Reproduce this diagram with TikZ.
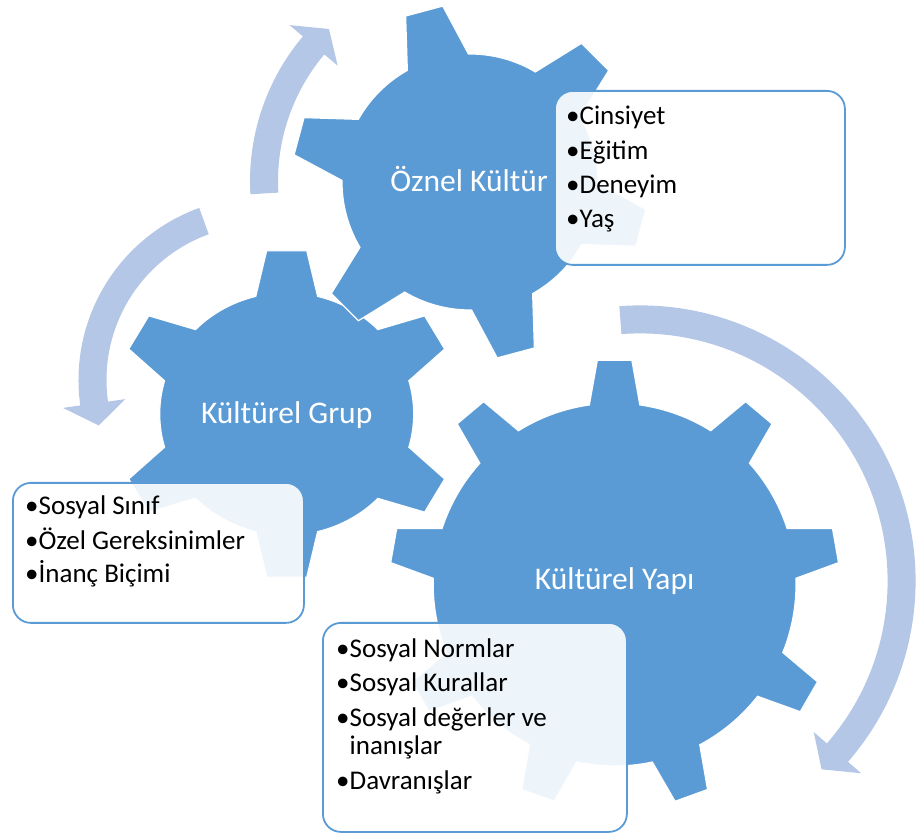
\documentclass[tikz,border=0pt]{standalone}
\usepackage{fontspec}
\setmainfont{Carlito}
\definecolor{gearblue}{HTML}{5B9BD5}
\definecolor{arrowblue}{HTML}{B4C7E7}
\begin{document}
\begin{tikzpicture}[x=1pt,y=1pt,
  gear/.style={fill=gearblue, draw=white, line width=1.2pt, line join=miter},
  cyclearrow/.style={fill=arrowblue},
  listbox/.style={draw=gearblue, line width=1.8pt, fill=white, fill opacity=0.9,
    rounded corners=18pt, inner sep=0pt, anchor=north west},
  listline/.style={anchor=base west, inner sep=0pt, text=black,
    font=\fontsize{27}{32}\selectfont},
  gearlabel/.style={anchor=base, inner sep=0pt, text=white,
    font=\fontsize{31.5}{38}\selectfont}]
\useasboundingbox (0,0) rectangle (916,836);

% ---- circular arrows (tail arc, head triangle, back along inner arc)
% upper left, around the top gear
\begin{scope}[shift={(475,654.7)}]
  \fill[cyclearrow] (183.3:225) arc[start angle=183.3, end angle=139.9, radius=225]
    -- (139.9:242.5) -- (133.8:211) -- (139.9:179.5) -- (139.9:197)
    arc[start angle=139.9, end angle=183.3, radius=197] -- cycle;
\end{scope}
% left, down towards the small gear
\begin{scope}[shift={(261.5,456)}]
  \fill[cyclearrow] (109.9:183) arc[start angle=109.9, end angle=188, radius=183]
    -- (188:200.5) -- (195.6:169) -- (188:137.5) -- (188:155)
    arc[start angle=188, end angle=109.9, radius=155] -- cycle;
\end{scope}
% right, around the large gear
\begin{scope}[shift={(640,255)}]
  \fill[cyclearrow] (94.3:275.6) arc[start angle=94.3, end angle=-41, radius=275.6]
    -- (-41:293) -- (-46.05:261.6) -- (-41:230.2) -- (-41:247.6)
    arc[start angle=-41, end angle=94.3, radius=247.6] -- cycle;
\end{scope}

% ---- gears: body arcs of radius R joined by trapezoid teeth reaching radius T
% large gear, nine teeth
\begin{scope}[shift={(614.6,251.4)}]
  \filldraw[gear] (2:181.4) \foreach \a in {10,50,...,330} {
      -- (\a-8:181.4) -- (\a-4.4:225) -- (\a+4.4:225) -- (\a+8:181.4)
      arc[start angle=\a+8, end angle=\a+32, radius=181.4] } -- cycle;
\end{scope}
% small gear, six teeth
\begin{scope}[shift={(286.7,422)}, yscale=0.955]
  \filldraw[gear] (75.9:127) \foreach \a in {90,150,...,390} {
      -- (\a-14.1:127) -- (\a-6.7:172) -- (\a+6.7:172) -- (\a+14.1:127)
      arc[start angle=\a+14.1, end angle=\a+45.9, radius=127] } -- cycle;
\end{scope}
% top gear, six teeth
\begin{scope}[shift={(470,654)}]
  \filldraw[gear] (90.7:128) \foreach \a in {105,165,...,405} {
      -- (\a-14.3:128) -- (\a-6.2:178) -- (\a+6.2:178) -- (\a+14.3:128)
      arc[start angle=\a+14.3, end angle=\a+45.7, radius=128] } -- cycle;
\end{scope}

% ---- gear labels
\node[gearlabel] (yapi)  at (614.6,246.5) {Kültürel Yapı};
\node[gearlabel] (grup)  at (286.7,412)   {Kültürel Grup};
\node[gearlabel] (oznel) at (469.2,644.3) {Öznel Kültür};

% ---- list boxes
\node[listbox, minimum width=290pt, minimum height=174pt] (box1) at (554,746) {};
\node[listbox, minimum width=291pt, minimum height=140pt] (box2) at (12,354) {};
\node[listbox, minimum width=304pt, minimum height=209pt] (box3) at (322,214) {};

% ---- list texts
\node[listline] (b1a) at (566,711)   {•Cinsiyet};
\node[listline] (b1b) at (566,676.3) {•Eğitim};
\node[listline] (b1c) at (566,642)   {•Deneyim};
\node[listline] (b1d) at (566,608)   {•Yaş};

\node[listline] (b2a) at (25,321.3) {•Sosyal Sınıf};
\node[listline] (b2b) at (25,286.3) {•Özel Gereksinimler};
\node[listline] (b2c) at (25,253)   {•İnanç Biçimi};

\node[listline] (b3a) at (336,178.7) {•Sosyal Normlar};
\node[listline] (b3b) at (336,144.7) {•Sosyal Kurallar};
\node[listline] (b3c) at (336,109.7) {•Sosyal değerler ve};
\node[listline] (b3d) at (336,81.3)  {\phantom{•}inanışlar};
\node[listline] (b3e) at (336,46.3)  {•Davranışlar};
\end{tikzpicture}
\end{document}
